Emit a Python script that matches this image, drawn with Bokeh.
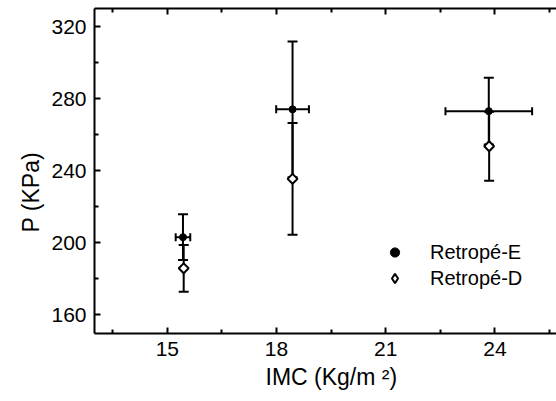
import math
from bokeh.plotting import figure
from bokeh.models import (ColumnDataSource, Whisker, TeeHead, FixedTicker, LinearAxis,
                          Range1d, Title, Legend, LegendItem)
from bokeh.embed import file_html
from bokeh.resources import INLINE

# ---- data ----
imc_e = [15.43, 18.44, 23.83]
p_e = [203.0, 274.0, 273.0]
p_e_err = [12.7, 37.7, 18.5]
imc_e_err = [0.2, 0.45, 1.19]

imc_d = [15.45, 18.44, 23.84]
p_d = [185.7, 235.4, 253.5]
p_d_err = [13.0, 31.0, 19.2]

x_ticks = [15, 18, 21, 24]
x_minor = [13.5, 16.5, 19.5, 22.5, 25.5]
y_ticks = [160, 200, 240, 280, 320]
y_minor = [180, 220, 260, 300]

FONT = "Liberation Sans"

src_e = ColumnDataSource(dict(
    x=imc_e, y=p_e,
    ylo=[v - e for v, e in zip(p_e, p_e_err)], yhi=[v + e for v, e in zip(p_e, p_e_err)],
    xlo=[v - e for v, e in zip(imc_e, imc_e_err)], xhi=[v + e for v, e in zip(imc_e, imc_e_err)],
))
src_d = ColumnDataSource(dict(
    x=imc_d, y=p_d,
    ylo=[v - e for v, e in zip(p_d, p_d_err)], yhi=[v + e for v, e in zip(p_d, p_d_err)],
))

p = figure(width=556, height=401, x_range=Range1d(13, 25.69), y_range=Range1d(149.5, 330),
           output_backend="svg", toolbar_location=None,
           min_border_left=94, min_border_right=0, min_border_top=8, min_border_bottom=68)
p.outline_line_color = None
p.grid.visible = False
p.background_fill_color = "white"
p.border_fill_color = "white"

xt = FixedTicker(ticks=x_ticks, minor_ticks=x_minor)
yt = FixedTicker(ticks=y_ticks, minor_ticks=y_minor)
p.xaxis.ticker = xt
p.yaxis.ticker = yt

def style(ax, labels=True):
    ax.axis_line_width = 2
    ax.axis_line_color = "black"
    ax.major_tick_in = 6
    ax.major_tick_out = 0
    ax.minor_tick_in = 4
    ax.minor_tick_out = 0
    ax.major_tick_line_width = 2
    ax.minor_tick_line_width = 2
    ax.major_tick_line_color = "black"
    ax.minor_tick_line_color = "black"
    ax.major_label_text_color = "black"
    ax.major_label_text_font = FONT
    ax.major_label_text_font_size = "21px"
    if not labels:
        ax.major_label_text_font_size = "0px"
        ax.major_label_standoff = 0

for ax in p.xaxis:
    style(ax)
    ax.major_label_standoff = 8
for ax in p.yaxis:
    style(ax)
    ax.major_label_standoff = 8

top = LinearAxis(ticker=FixedTicker(ticks=x_ticks, minor_ticks=x_minor),
                 major_label_overrides={t: "" for t in x_ticks})
style(top, labels=False)
p.add_layout(top, "above")

# error bars
lw = 2
p.add_layout(Whisker(source=src_e, base="x", lower="ylo", upper="yhi", dimension="height",
                     line_width=lw, line_color="black",
                     upper_head=TeeHead(size=10, line_width=lw, line_color="black"),
                     lower_head=TeeHead(size=10, line_width=lw, line_color="black")))
p.add_layout(Whisker(source=src_e, base="y", lower="xlo", upper="xhi", dimension="width",
                     line_width=lw, line_color="black",
                     upper_head=TeeHead(size=8, line_width=lw, line_color="black"),
                     lower_head=TeeHead(size=8, line_width=lw, line_color="black")))
p.add_layout(Whisker(source=src_d, base="x", lower="ylo", upper="yhi", dimension="height",
                     line_width=lw, line_color="black",
                     upper_head=TeeHead(size=10, line_width=lw, line_color="black"),
                     lower_head=TeeHead(size=10, line_width=lw, line_color="black")))

r_d = p.scatter("x", "y", source=src_d, marker="square", size=7, angle=math.pi / 4,
                fill_color="white", line_color="black", line_width=2)
# same data as a diamond, only used for the legend swatch
r_d_leg = p.scatter("x", "y", source=src_d, marker="diamond", size=10,
                    fill_color="white", line_color="black", line_width=2, visible=False)
r_e = p.scatter("x", "y", source=src_e, marker="circle", size=7,
                fill_color="black", line_color="black")

legend = Legend(items=[LegendItem(label="Retropé-E", renderers=[r_e]),
                       LegendItem(label="Retropé-D", renderers=[r_d_leg])],
                location=(289, 42), padding=0, margin=0, spacing=0,
                glyph_width=23, glyph_height=26, label_height=26, label_standoff=24,
                label_text_font=FONT, label_text_font_size="20px", label_text_color="black",
                border_line_color=None, background_fill_alpha=0, click_policy="none")
p.add_layout(legend)

xlab = Title(text="IMC (Kg/m ²)", align="left", offset=171, standoff=7,
             text_font=FONT, text_font_size="23px", text_font_style="normal",
             text_color="black")
p.add_layout(xlab, "below")
ylab = Title(text="P (KPa)", align="left", offset=101, standoff=10,
             text_font=FONT, text_font_size="23px", text_font_style="normal",
             text_color="black")
p.add_layout(ylab, "left")

open("out.html", "w").write(file_html(p, INLINE))
